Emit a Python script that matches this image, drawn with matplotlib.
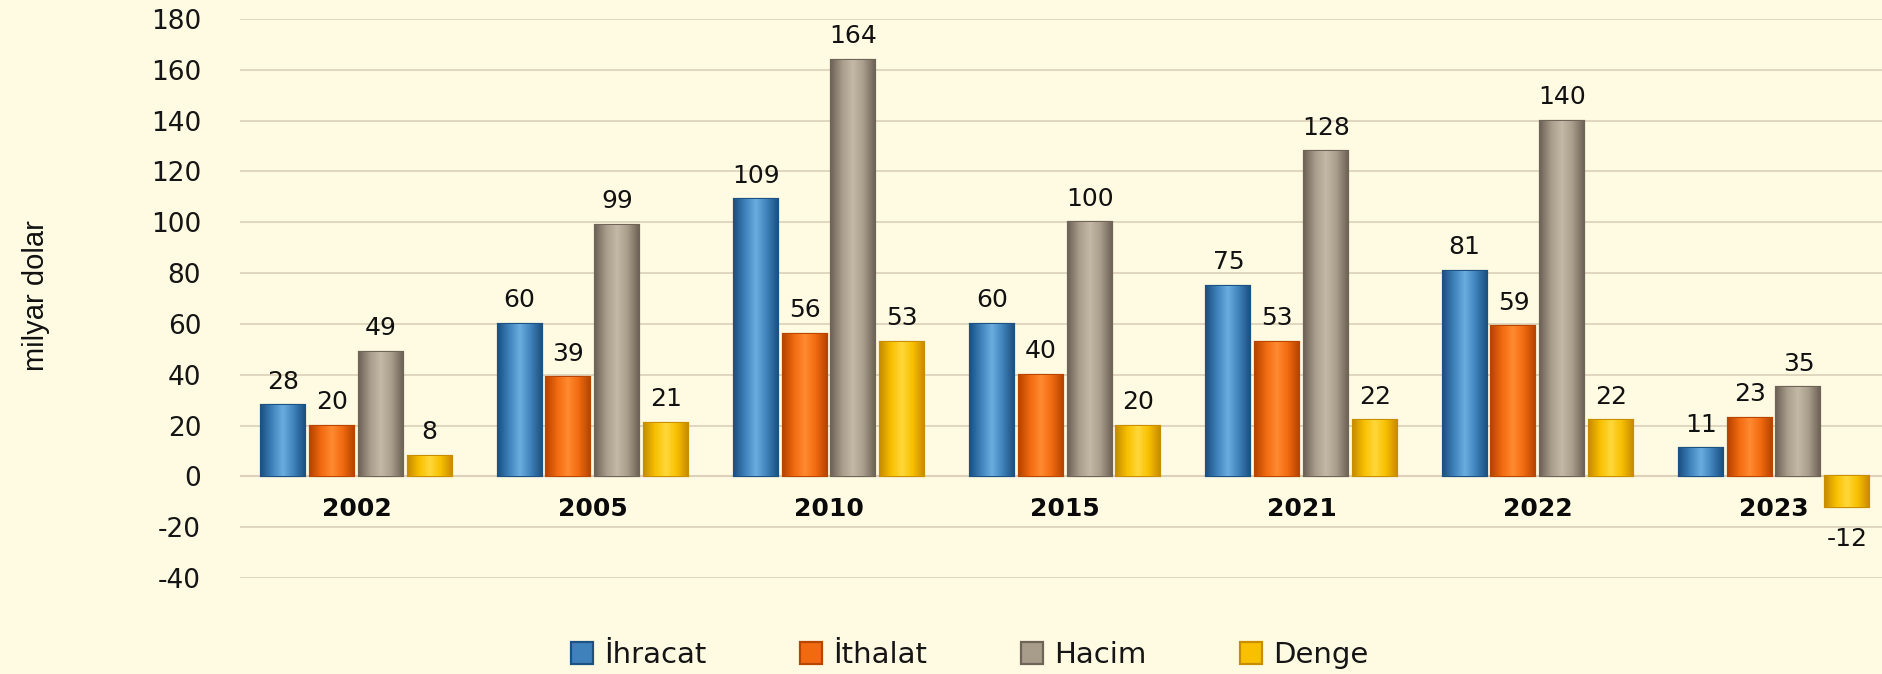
import matplotlib

matplotlib.use("Agg")
import matplotlib.pyplot as plt
import numpy as np
from matplotlib.colors import LinearSegmentedColormap

plt.rcParams["axes.unicode_minus"] = False

years = ["2002", "2005", "2010", "2015", "2021", "2022", "2023"]
ihracat = [28, 60, 109, 60, 75, 81, 11]
ithalat = [20, 39, 56, 40, 53, 59, 23]
hacim = [49, 99, 164, 100, 128, 140, 35]
denge = [8, 21, 53, 20, 22, 22, -12]

series = [
    ("İhracat", ihracat, "#3f82bb", "#1c5283", "#6aaee0"),
    ("İthalat", ithalat, "#f26a10", "#b84500", "#ff8a30"),
    ("Hacim", hacim, "#a89c8b", "#6f6458", "#c4b8a6"),
    ("Denge", denge, "#f8c000", "#c98e00", "#ffd83a"),
]

bg = "#fffbe3"
fig = plt.figure(figsize=(18.83, 6.74), dpi=100, facecolor=bg)
ax = fig.add_axes([0.1275, 0.1424, 0.8725, 0.8294], facecolor=bg)

x = np.arange(len(years))
slot = 0.2064
width = 0.186

handles = []
for i, (name, vals, col, dark, light) in enumerate(series):
    pos = x + (i - 1.5) * slot
    bars = ax.bar(pos, vals, width, color=col, edgecolor=dark, linewidth=1.6,
                  zorder=3, label=name)
    handles.append(bars)
    # soft cylinder-like shading inside each bar
    cmap = LinearSegmentedColormap.from_list(name, [dark, col, light, col, dark])
    grad = np.linspace(0, 1, 64).reshape(1, -1)
    for p in bars.patches:
        bx, by = p.get_x(), p.get_y()
        bw, bh = p.get_width(), p.get_height()
        im = ax.imshow(grad, cmap=cmap, aspect="auto", zorder=3.1,
                       extent=[bx, bx + bw, by, by + bh], interpolation="bilinear")
        im.set_clip_path(p)
    for xp, v in zip(pos, vals):
        off = 17 if v >= 0 else -23
        ax.annotate(str(v), (xp, v), xytext=(0, off), textcoords="offset points",
                    ha="center", va="center", fontsize=18, color="#111111",
                    zorder=5)

for xi, yr in zip(x, years):
    ax.text(xi, -13, yr, ha="center", va="center", fontsize=18,
            fontweight="bold", color="#0a0a0a", zorder=5)

ax.set_xlim(-0.493, 6.461)
ax.set_ylim(-40, 180)
ax.set_yticks(np.arange(-40, 181, 20))
ax.set_xticks([])
ax.yaxis.grid(True, color="#ddd4bb", linewidth=1.3, zorder=0)
ax.axhline(0, color="#e6c6ae", linewidth=1.5, zorder=1)
ax.tick_params(axis="y", length=0, pad=28, labelsize=19, labelcolor="#151515")
for s in ax.spines.values():
    s.set_visible(False)

fig.text(0.019, 0.561, "milyar dolar", rotation=90, ha="center", va="center",
         fontsize=21, color="#111111",
         family=["Liberation Sans Narrow", "Liberation Sans", "DejaVu Sans"])

fig.legend(handles=handles, labels=[s[0] for s in series], loc="center",
           bbox_to_anchor=(0.515, 0.028), ncol=4, frameon=False, fontsize=21,
           handlelength=0.75, handleheight=0.75, handletextpad=0.4,
           columnspacing=3.2, labelcolor="#151515")

fig.savefig("out.png", dpi=100, facecolor=bg)
